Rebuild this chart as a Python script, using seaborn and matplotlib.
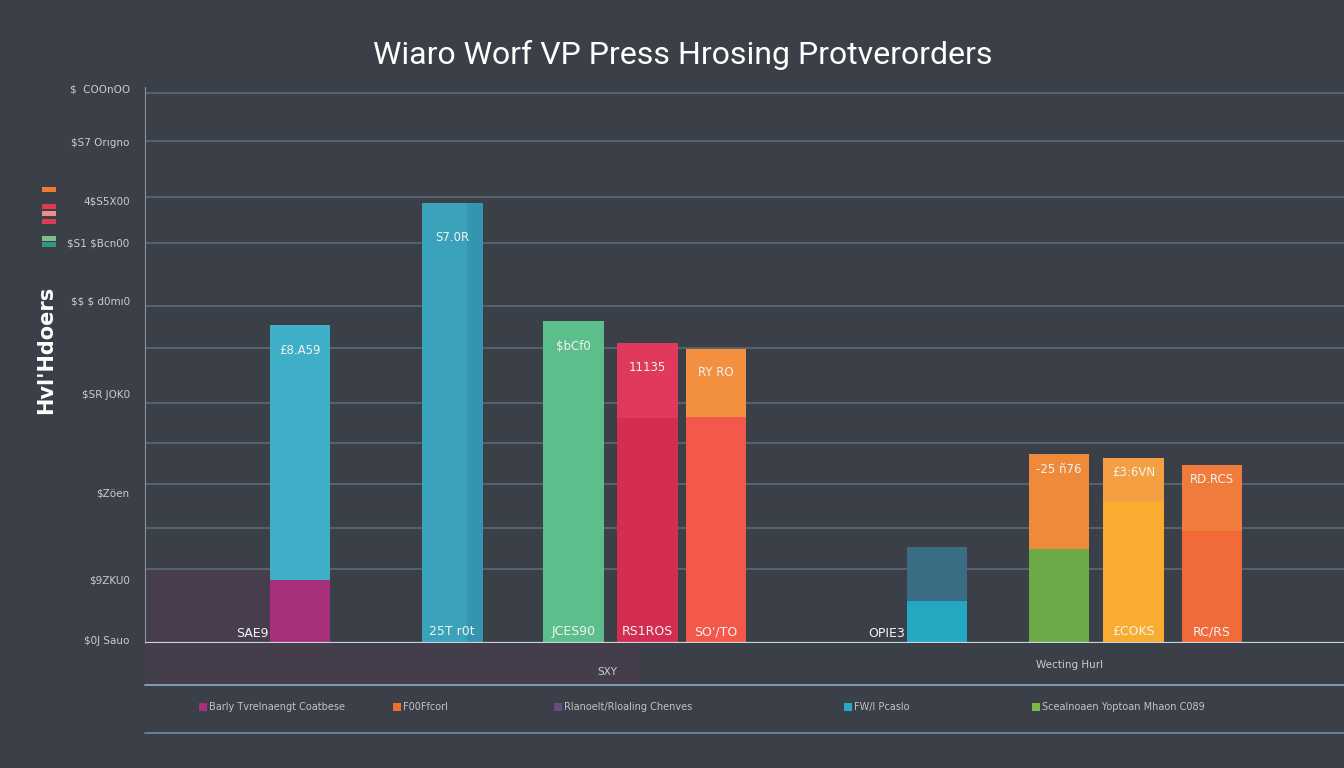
import numpy as np
import pandas as pd
import matplotlib.pyplot as plt
import matplotlib.patches as mpatches
from matplotlib.lines import Line2D
import seaborn as sns

# bar values (stacked: lower segment + upper segment = total)
total = [57.7, 79.9, 58.4, 54.4, 53.4, 17.4, 34.3, 33.6, 32.3]
lower = [11.4, 79.9, 58.4, 40.8, 41.0, 7.6, 17.1, 25.6, 20.3]
top_text = ['£8.A59', 'S7.0R', '$bCf0', '11135', 'RY RO', '', '-25 ñ76', '£3:6VN', 'RD.RCS']
base_text = ['SAE9', '25T r0t', 'JCES90', 'RS1ROS', "SO'/TO", 'OPIE3', '', '£COKS', 'RC/RS']
top_colors = ['#3eafc6', '#3aa2ba', '#5cbf8b', '#e0395b', '#f2903f',
              '#3a6d84', '#f08a3b', '#f4a042', '#f07c3c']
low_colors = ['#a8307b', '#3aa2ba', '#5cbf8b', '#d32d4f', '#f2594a',
              '#24a7c0', '#6aab48', '#f8ac30', '#f06b39']

tick_vals = [100.7, 90.9, 80.4, 72.6, 62.1, 45.2, 27.4, 11.6, 0.5]
tick_labels = ['$  COOnOO', '$S7 Orıgno', '4$S5X00', '$S1 $Bcn00', '$$ $ d0mı0',
               '$SR JOK0', '$Zöen', '$9ZKU0', '$0J Sauo']
grid_vals = [99.8, 91.1, 80.9, 72.6, 61.2, 53.5, 43.6, 36.3, 28.9, 20.9, 13.4]

legend_labels = ['Barly Tvrelnaengt Coatbese', 'F00Ffcorl', 'Rlanoelt/Rloaling Chenves',
                 'FW/l Pcaslo', 'Scealnoaen Yoptoan Mhaon C089']
legend_colors = ['#a8307b', '#f26b35', '#6a4a82', '#2aa7c4', '#7ab84a']
side_colors = ['#f07a35', '#e03a55', '#e89090', '#e03a55', '#7cc08a', '#2f9a80']

# bar slots along the x axis (groups with uneven gaps)
slots = [0, 2.17, 3.9, 4.95, 5.93, 9.08, 10.82, 11.88, 13.0]
names = ['b%d' % i for i in range(len(total))]
df = pd.DataFrame({'name': names, 'pos': slots, 'total': total, 'lower': lower})

bg = '#3b4048'
sns.set_theme(style='dark', rc={'figure.facecolor': bg, 'axes.facecolor': bg})
plt.rcParams['font.family'] = ['DejaVu Sans']
plt.rcParams['text.parse_math'] = False

fig = plt.figure(figsize=(13.44, 7.68), dpi=100)
ax = fig.add_axes([145 / 1344, 1 - 643 / 768, 1 - 145 / 1344, (643 - 86.5) / 768])

w = 0.88
sns.barplot(data=df, x='pos', y='total', hue='name', palette=dict(zip(names, top_colors)),
            native_scale=True, width=w, dodge=False, legend=False, saturation=1,
            linewidth=0, ax=ax, zorder=3)
sns.barplot(data=df, x='pos', y='lower', hue='name', palette=dict(zip(names, low_colors)),
            native_scale=True, width=w, dodge=False, legend=False, saturation=1,
            linewidth=0, ax=ax, zorder=3)

ax.set_xlim(-2.21, 14.88)
ax.set_ylim(0, 101)
bw = w * 0.98

# darker side on the tallest bar
ax.add_patch(mpatches.Rectangle((slots[1] + bw / 2 - 0.22, 0), 0.22, total[1],
                                color='#2f8ea6', alpha=0.6, lw=0, zorder=3.5))

# faint glow left of the first bar
ax.add_patch(mpatches.Rectangle((-2.21, 0), 2.21 - bw / 2, 13.4, color='#5b3a58',
                                alpha=0.38, lw=0, zorder=1))

for g in grid_vals:
    ax.axhline(g, color='#5f6d7b', lw=1.1, zorder=2)
ax.axhline(0, color='#c6d4de', lw=1.6, zorder=4)

for i, p in enumerate(slots):
    if top_text[i]:
        ax.text(p, total[i] * 0.92, top_text[i], ha='center', va='center',
                fontsize=8.5, color='#f2f2f2', zorder=5)
    if base_text[i]:
        if lower[i] > 15:
            ax.text(p, 2.0, base_text[i], ha='center', va='center',
                    fontsize=9, color='#f2f2f2', zorder=5)
        else:
            ax.text(p - bw / 2 - 0.02, 1.7, base_text[i], ha='right', va='center',
                    fontsize=9, color='#f2f2f2', zorder=5)

ax.set_yticks(tick_vals, tick_labels)
ax.set_xticks([])
ax.tick_params(axis='y', length=0, pad=11, labelsize=7.5, labelcolor='#c9cdd2')
ax.set_xlabel('')
ax.set_ylabel('')
for s in ['top', 'right', 'bottom']:
    ax.spines[s].set_visible(False)
ax.spines['left'].set_visible(True)
ax.spines['left'].set_color('#8a9199')
ax.spines['left'].set_linewidth(0.8)

# title and vertical label
fig.text(0.508, 1 - 55 / 768, 'Wiaro Worf VP Press Hrosing Protverorders',
         ha='center', va='center', fontsize=23, color='white', family='Roboto')
fig.text(0.034, 1 - 350 / 768, "Hvl'Hdoers", rotation=90, ha='center', va='center',
         fontsize=15, fontweight='bold', color='white')

# small swatches on the left
for yy, c in zip([189, 206, 213, 221, 238, 244], side_colors):
    fig.add_artist(mpatches.Rectangle((42 / 1344, 1 - (yy + 2.5) / 768), 14 / 1344,
                                      4.5 / 768, color=c, lw=0))

# area below the axis
fig.add_artist(mpatches.Rectangle((145 / 1344, 1 - 685 / 768), 495 / 1344, 42 / 768,
                                  color='#5b3a58', alpha=0.3, lw=0))
fig.add_artist(Line2D([145 / 1344, 1], [1 - 685 / 768] * 2, color='#7f9db2', lw=1.4))
fig.add_artist(Line2D([145 / 1344, 1], [1 - 733 / 768] * 2, color='#6f8da2', lw=1.2))
fig.text(607 / 1344, 1 - 672 / 768, 'SXY', ha='center', va='center', fontsize=7.5,
         color='#c9cdd2')
fig.text(1070 / 1344, 1 - 665 / 768, 'Wecting Hurl', ha='center', va='center',
         fontsize=7.5, color='#c9cdd2')

# legend row
for lx, lab, c in zip([203, 397, 558, 848, 1036], legend_labels, legend_colors):
    fig.add_artist(mpatches.Rectangle(((lx - 4) / 1344, 1 - 711 / 768), 8 / 1344, 8 / 768,
                                      color=c, lw=0))
    fig.text((lx + 6) / 1344, 1 - 707 / 768, lab, ha='left', va='center', fontsize=7,
             color='#c0c4c8')

fig.savefig('out.png', dpi=100, facecolor=bg)
